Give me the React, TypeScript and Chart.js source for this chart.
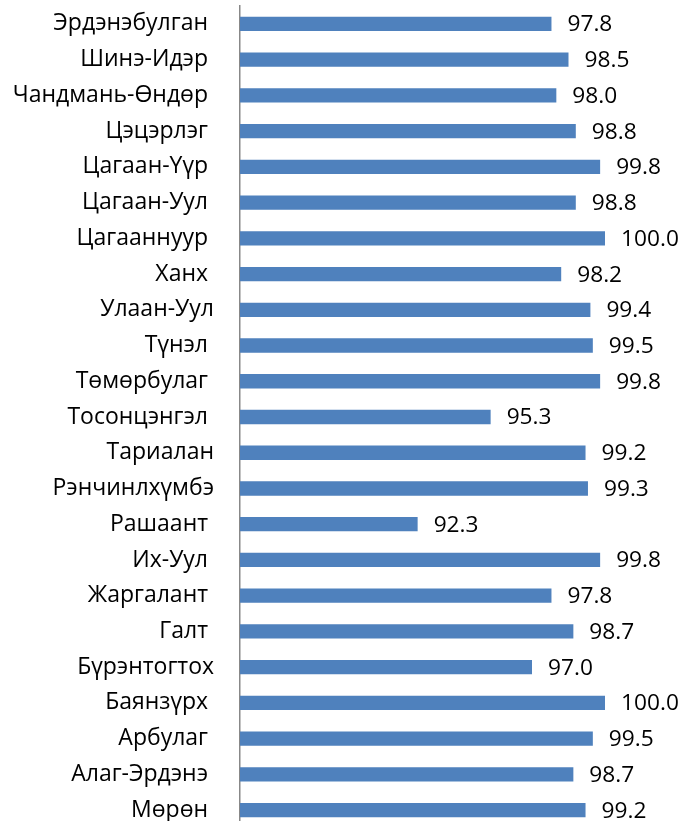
import React, { useEffect, useRef } from "react";
import { Chart, registerables } from "chart.js";

Chart.register(...registerables);

const categories: string[] = [
  "Эрдэнэбулган ",
  "Шинэ-Идэр ",
  "Чандмань-Өндөр ",
  "Цэцэрлэг ",
  "Цагаан-Үүр ",
  "Цагаан-Уул ",
  "Цагааннуур ",
  "Ханх ",
  "Улаан-Уул",
  "Түнэл ",
  "Төмөрбулаг ",
  "Тосонцэнгэл ",
  "Тариалан",
  "Рэнчинлхүмбэ",
  "Рашаант ",
  "Их-Уул ",
  "Жаргалант ",
  "Галт ",
  "Бүрэнтогтох",
  "Баянзүрх ",
  "Арбулаг ",
  "Алаг-Эрдэнэ ",
  "Мөрөн ",
];

const values: number[] = [
  97.8, 98.5, 98.0, 98.8, 99.8, 98.8, 100.0, 98.2, 99.4, 99.5, 99.8, 95.3,
  99.2, 99.3, 92.3, 99.8, 97.8, 98.7, 97.0, 100.0, 99.5, 98.7, 99.2,
];

const axisMin = 85;
const axisMax = 100;

const FONT_FAMILY = "'Open Sans', 'DejaVu Sans', sans-serif";
const LABEL_FONT_SIZE = 23;
const VALUE_FONT_SIZE = 22.7;

const valueLabelPlugin = {
  id: "valueLabels",
  afterDatasetsDraw(chart: any) {
    const ctx = chart.ctx;
    const meta = chart.getDatasetMeta(0);
    ctx.save();
    ctx.font = `${VALUE_FONT_SIZE}px ${FONT_FAMILY}`;
    ctx.fillStyle = "#000000";
    ctx.textAlign = "left";
    ctx.textBaseline = "middle";
    meta.data.forEach((bar: any, i: number) => {
      const v = chart.data.datasets[0].data[i] as number;
      ctx.fillText(v.toFixed(1), bar.x + 16, bar.y + 1);
    });
    ctx.restore();
  },
};

export default function App() {
  const canvasRef = useRef<HTMLCanvasElement | null>(null);

  useEffect(() => {
    if (!canvasRef.current) return;
    const chart = new Chart(canvasRef.current, {
      type: "bar",
      data: {
        labels: categories,
        datasets: [
          {
            data: values,
            backgroundColor: "#4F81BD",
            borderWidth: 0,
            barPercentage: 0.4,
            categoryPercentage: 1,
          },
        ],
      },
      options: {
        indexAxis: "y",
        responsive: false,
        animation: false,
        devicePixelRatio: 1,
        layout: {
          padding: { top: 6, right: 79, bottom: 12, left: 0 },
        },
        plugins: {
          legend: { display: false },
          tooltip: { enabled: false },
          title: { display: false },
        },
        scales: {
          x: {
            display: false,
            min: axisMin,
            max: axisMax,
          },
          y: {
            afterFit: (scale: any) => {
              scale.width = 240;
              scale.paddingTop = 0;
              scale.paddingBottom = 0;
            },
            grid: { display: false, drawTicks: false },
            border: { display: true, color: "#888888", width: 1.5 },
            ticks: {
              padding: 26,
              color: "#000000",
              font: { family: FONT_FAMILY, size: LABEL_FONT_SIZE },
              autoSkip: false,
            },
          },
        },
      },
      plugins: [valueLabelPlugin],
    });
    return () => chart.destroy();
  }, []);

  return (
    <div
      style={{
        position: "fixed",
        left: 0,
        top: 0,
        width: 684,
        height: 821,
        overflow: "hidden",
        background: "#ffffff",
      }}
    >
      <canvas
        ref={canvasRef}
        width={684}
        height={840}
        style={{ display: "block", width: 684, height: 840 }}
      />
    </div>
  );
}
